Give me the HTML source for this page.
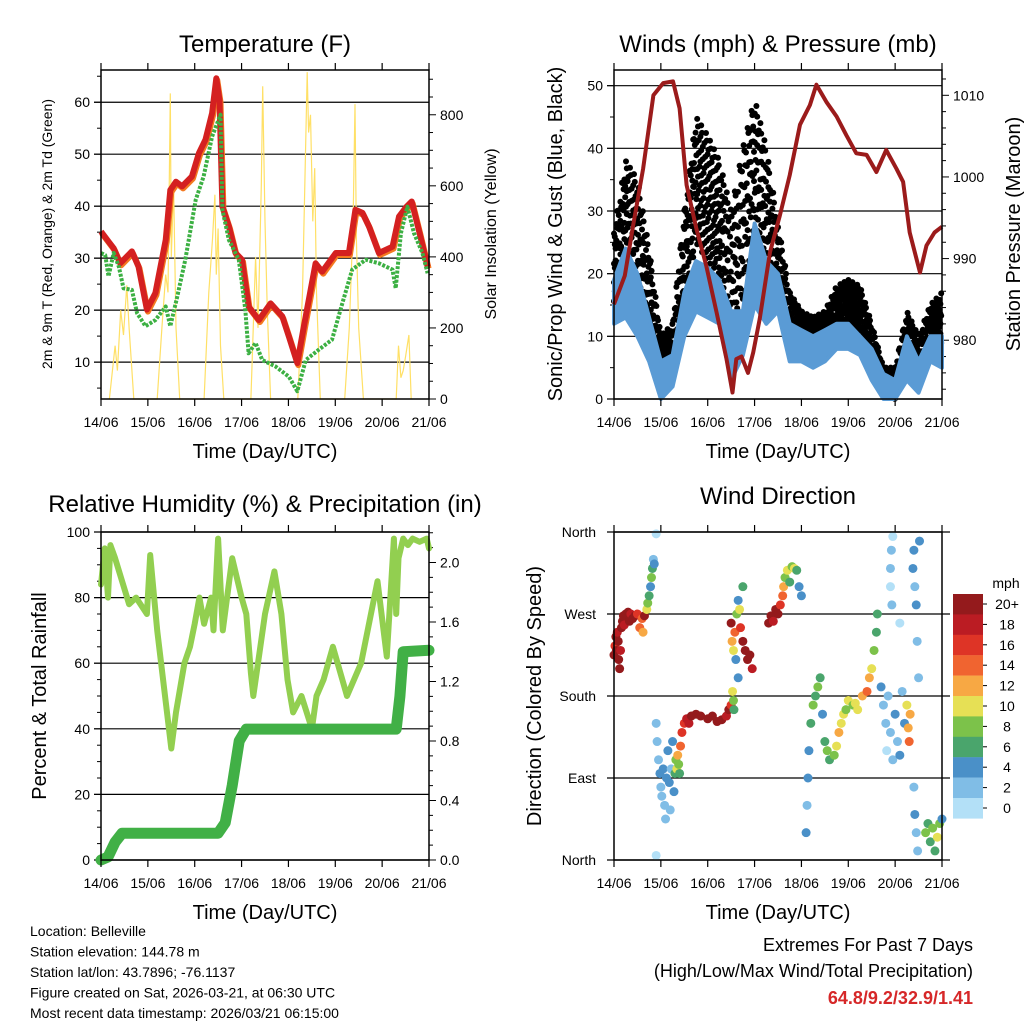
<!DOCTYPE html>
<html><head><meta charset="utf-8"><style>
body{margin:0;background:#fff;}
svg{display:block;font-family:"Liberation Sans",sans-serif;}
</style></head><body>
<svg id="c" width="1024" height="1024" viewBox="0 0 1024 1024"></svg>
<script>
// ---------- DATA ----------
const dayLabels = ["14/06","15/06","16/06","17/06","18/06","19/06","20/06","21/06"];
const tempT = [0,0.16,0.27,0.41,0.66,0.8,0.98,1.16,1.38,1.48,1.6,1.73,1.94,2.09,2.23,2.37,2.46,2.53,2.59,2.73,2.87,3.01,3.15,3.37,3.62,3.87,4.01,4.19,4.33,4.58,4.72,5.01,5.29,5.43,5.58,5.72,5.93,6.22,6.36,6.52,6.63,6.8,6.97];
const tempV = [35.1,33.2,31.9,29,31.3,28.4,20.1,23.3,33.5,43.1,44.7,43.8,45.7,50.2,52.8,57.9,64.6,60.4,39.9,36.1,31,29.7,20.7,18.1,21.3,18.8,14.9,9.8,16.9,29,27.4,31,31,39.3,38.7,36.1,31,32.2,38,39.9,40.9,34.8,28.4];
const dewT = [0,0.09,0.16,0.27,0.38,0.48,0.66,0.77,0.95,1.16,1.38,1.48,1.62,1.8,2.02,2.19,2.37,2.55,2.59,2.73,2.94,3.08,3.15,3.3,3.44,3.72,4.01,4.19,4.37,4.65,4.93,5.15,5.36,5.65,5.93,6.22,6.29,6.4,6.54,6.68,6.86,6.97];
const dewV = [31,30.6,26.5,31,28.4,24.2,23.9,19.4,16.9,18.1,20.7,16.9,22.3,29.7,41.2,45.7,53.4,57.6,39.3,33.5,29.7,20.1,11.7,13.7,10.4,9.2,7.2,4.4,10.4,12.4,14.3,21.3,27.8,29.7,29,27.8,24.2,34.8,39.9,34.8,31,27.1];
const solarT = [0.18,0.3,0.35,0.42,0.48,0.55,0.6,0.7, 1.2,1.3,1.38,1.43,1.48,1.5,1.55,1.6,1.68, 2.2,2.3,2.38,2.43,2.46,2.5,2.55,2.62, 3.2,3.3,3.35,3.42,3.45,3.5,3.55,3.62, 4.2,4.3,4.35,4.4,4.43,4.47,4.52,4.56,4.6,4.68, 5.2,5.3,5.38,5.42,5.45,5.5,5.6, 6.3,6.35,6.4,6.45,6.5,6.57,6.62];
const solarW = [0,150,80,250,180,320,200,0, 0,200,350,300,860,400,600,200,0, 0,300,450,575,350,480,150,0, 0,400,200,600,880,500,250,0, 0,300,600,920,750,800,500,650,300,0, 0,200,500,830,450,200,0, 0,150,60,80,120,180,0];
const windT = [0,0.25,0.5,0.75,1,1.25,1.5,1.75,2,2.25,2.5,2.75,3,3.25,3.5,3.75,4,4.25,4.5,4.75,5,5.25,5.5,5.75,6,6.25,6.5,6.75,7];
const windLo = [12,13,10,6,0,2,10,14,13,12,3,7,15,12,14,6,6,5,6,8,8,7,3,0,0,3,1,6,5];
const windHi = [19,24,20,13,6,7,17,22,21,19,14,14,28,22,20,12,11,10,11,12,12,10,8,4,3,10,6,10,10];
const gustLo = [15,20,14,10,3,3,15,25,22,20,5,10,25,18,16,8,8,7,8,10,12,10,5,1,0,5,2,8,9];
const gustHi = [27,38,35,24,10,12,30,45,42,38,30,40,48,40,28,17,14,13,14,18,19,18,12,5,5,14,10,15,17];
const presT = [0,0.23,0.41,0.62,0.84,1.05,1.26,1.4,1.55,1.76,1.97,2.19,2.4,2.53,2.61,2.72,2.86,2.97,3.11,3.33,3.54,3.75,3.97,4.18,4.32,4.53,4.75,4.96,5.17,5.39,5.6,5.81,6.03,6.17,6.31,6.53,6.67,6.84,7];
const presV = [984.4,987.9,994.1,1001,1010,1011.5,1011.7,1008.4,999,993.6,989.1,983.4,977.7,973.6,977.7,978,976,978.5,982.6,990.8,995.3,1000.2,1006.4,1008.8,1011.3,1009.2,1007.4,1005.1,1002.9,1002.7,1000.6,1003.3,1001,999.4,993.2,988.3,991.6,993.2,993.9];
const rhT = [0,0.08,0.15,0.2,0.3,0.45,0.6,0.75,0.98,1.05,1.2,1.5,1.6,1.78,1.9,2.0,2.1,2.2,2.35,2.4,2.5,2.6,2.8,3.0,3.1,3.2,3.25,3.35,3.5,3.7,3.85,3.98,4.1,4.28,4.5,4.6,4.75,4.95,5.15,5.25,5.55,5.9,6.1,6.25,6.3,6.35,6.45,6.55,6.65,6.8,6.95,7.0];
const rhV = [84,95,80,96,92,85,78,80,75,93,70,34,45,60,65,72,80,72,80,70,98,70,92,80,75,57,50,60,75,88,75,55,45,50,40,50,55,65,55,50,60,85,62,98,75,92,98,96,98,97,98,95];
const rainT = [0,0.15,0.3,0.45,2.5,2.65,2.8,2.95,3.1,6.3,6.38,6.45,7.0];
const rainV = [0,0.02,0.12,0.18,0.18,0.25,0.5,0.8,0.88,0.88,1.1,1.4,1.41];
const dirT = [0,0.02,0.04,0.05,0.07,0.09,0.1,0.12,0.14,0.16,0.18,0.2,0.22,0.25,0.3,0.33,0.36,0.4,0.45,0.5,0.55,0.6,0.62,0.65,0.7,0.72,0.75,0.78,0.8,0.82,0.84,0.86,0.9,0.9,0.9,0.92,0.95,0.98,1.0,1.02,1.05,1.08,1.1,1.12,1.15,1.18,1.2,1.22,1.25,1.28,1.3,1.32,1.34,1.36,1.38,1.4,1.42,1.45,1.5,1.55,1.6,1.65,1.75,1.85,2.0,2.1,2.2,2.3,2.4,2.45,2.5,2.53,2.55,2.56,2.5,2.52,2.55,2.58,2.6,2.62,2.65,2.68,2.7,2.75,2.8,2.85,2.9,2.95,2.75,2.65,3.3,3.35,3.4,3.45,3.5,3.55,3.6,3.62,3.65,3.7,3.75,3.8,3.85,3.9,3.95,4.0,4.1,4.12,4.14,4.16,4.2,4.25,4.3,4.35,4.4,4.45,4.5,4.55,4.6,4.7,4.75,4.8,4.85,4.9,4.95,5.0,5.1,5.15,5.2,5.3,5.4,5.45,5.5,5.55,5.6,5.62,5.7,5.75,5.8,5.82,5.85,5.9,5.95,6.0,6.05,6.1,6.15,6.2,5.9,5.9,5.92,5.93,5.95,6.1,6.25,6.28,6.3,6.32,6.38,6.4,6.42,6.45,6.47,6.5,6.52,6.4,6.42,6.45,6.48,6.65,6.7,6.75,6.8,6.85,6.9,6.95,7.0];
const dirD = [225,235,245,230,250,240,220,210,230,255,262,268,258,270,272,262,270,265,268,270,255,265,250,268,275,282,290,300,310,320,330,325,358,5,150,130,110,95,80,70,100,60,45,90,120,85,55,100,130,75,95,110,100,115,105,95,125,140,150,155,150,158,160,158,155,158,152,154,158,165,170,185,175,165,260,240,230,250,220,270,285,275,255,240,230,220,225,210,300,200,260,268,262,275,270,280,290,300,310,318,305,322,320,318,300,290,30,60,90,120,150,170,180,190,200,160,130,120,110,115,125,140,150,160,165,175,170,172,165,180,185,200,210,230,250,270,190,170,150,120,180,140,110,160,130,115,185,150,300,320,340,280,355,260,170,145,130,160,320,340,300,280,240,200,350,80,50,30,10,30,40,20,35,10,25,40,45];
const dirS = [20,16,20,20,18,20,20,20,18,20,20,20,18,20,20,20,18,20,20,16,14,14,12,20,10,8,6,4,8,6,2,4,0,0,2,2,2,4,2,2,4,2,2,4,4,4,2,2,4,4,6,8,10,12,8,6,14,16,16,18,18,20,20,20,20,20,20,20,18,20,16,10,8,6,20,12,10,14,4,8,4,10,16,20,20,20,20,18,6,4,20,20,18,20,20,16,14,12,8,10,6,8,10,6,4,4,4,2,4,4,6,8,6,8,6,4,6,8,6,8,10,12,10,10,8,10,8,10,10,12,14,12,10,8,6,6,4,2,2,0,2,2,2,4,2,4,2,4,0,2,2,2,0,0,10,12,14,12,4,4,2,4,2,2,4,2,4,2,2,8,6,6,8,6,10,8,4];
const cbLabels = ["20+","18","16","14","12","10","8","6","4","2","0"];
const cbColors = ["#941a1c","#bb1c23","#de3426","#f06430","#f7a844","#e6e055","#7cc24a","#4aa56c","#4a90c8","#80bde6","#b3e0f7"];

// ---------- HELPERS ----------
const NS="http://www.w3.org/2000/svg";
const svg=document.getElementById('c');
function el(tag,attrs,parent){const e=document.createElementNS(NS,tag);for(const k in attrs)e.setAttribute(k,attrs[k]);(parent||svg).appendChild(e);return e;}
function txt(s,x,y,size,anchor,parent,extra){const e=el('text',Object.assign({x:x,y:y,'font-size':size,'text-anchor':anchor||'middle',fill:'#000'},extra||{}),parent);e.textContent=s;return e;}
function grp(name){const g=el('g',{});return g;}
function path(pts){return pts.map((p,i)=>(i?'L':'M')+p[0].toFixed(1)+','+p[1].toFixed(1)).join('');}
function interp(ts,vs,t){for(let i=1;i<ts.length;i++){if(t<=ts[i]){const f=(t-ts[i-1])/(ts[i]-ts[i-1]);return vs[i-1]+f*(vs[i]-vs[i-1]);}}return vs[vs.length-1];}

function xAxis(g,x0,w,y0,h){
  const lab=grp('x-axis');g.appendChild(lab);
  for(let i=0;i<8;i++){const x=x0+i*w/7;
    el('line',{x1:x,y1:y0+h,x2:x,y2:y0+h+7,stroke:'#000','stroke-width':1.2},lab);
    el('line',{x1:x,y1:y0,x2:x,y2:y0-7,stroke:'#000','stroke-width':1.2},lab);
    const t=txt(dayLabels[i],x,y0+h+28,14,'middle',lab);}
  const xt=txt('Time (Day/UTC)',x0+w/2,y0+h+59,20,'middle',lab);
  
}
function yTicks(g,x,y0,y1,vmin,vmax,major,minor,side,labels,grid,gx0,gx1){
  const Y=v=>y1-(v-vmin)/(vmax-vmin)*(y1-y0);
  const d=side==='left'?-1:1;
  for(let v=Math.ceil(vmin/minor)*minor;v<=vmax+1e-9;v+=minor){
    const y=Y(v);const isMaj=Math.abs(v/major-Math.round(v/major))<1e-6;
    el('line',{x1:x,y1:y,x2:x+d*(isMaj?7:4),y2:y,stroke:'#000','stroke-width':1},g);
  }
  labels.forEach(L=>{const y=Y(L[0]);
    const t=txt(L[1],x+d*11,y+5,14,side==='left'?'end':'start',g);
    
    if(grid)el('line',{x1:gx0,y1:y,x2:gx1,y2:y,stroke:'#000','stroke-width':1.2},g);
  });
  return Y;
}
function frame(g,x,y,w,h){el('rect',{x:x,y:y,width:w,height:h,fill:'none',stroke:'#000','stroke-width':1.5},g);}

// ---------- PANEL 1: TEMPERATURE ----------
(function(){
  const g=grp('temperature-panel');svg.appendChild(g);
  const x0=101,y0=70,w=328,h=329;const X=t=>x0+t*w/7;
  const tt=txt('Temperature (F)',265,52,24,'middle',g);
  const Y=yTicks(g,x0,y0,y0+h,2.9,66.2,10,5,'left',[[10,'10'],[20,'20'],[30,'30'],[40,'40'],[50,'50'],[60,'60']],true,x0-7,x0+w);
  const YS=yTicks(g,x0+w,y0,y0+h,0,926,200,50,'right',[[0,'0'],[200,'200'],[400,'400'],[600,'600'],[800,'800']],false);
  const sol=el('path',{d:path(solarT.map((t,i)=>[X(t),YS(solarW[i])])),fill:'none',stroke:'#ffe066','stroke-width':1.2},g);
  
  const or=el('path',{d:path(tempT.map((t,i)=>[X(t)+1,Y(tempV[i])+2])),fill:'none',stroke:'#f47920','stroke-width':6,'stroke-linejoin':'round'},g);
  
  const rd=el('path',{d:path(tempT.map((t,i)=>[X(t),Y(tempV[i])])),fill:'none',stroke:'#d42020','stroke-width':6,'stroke-linejoin':'round'},g);
  
  const gr=el('path',{d:path(dewT.map((t,i)=>[X(t),Y(dewV[i])])),fill:'none',stroke:'#3cb043','stroke-width':4,'stroke-dasharray':'3 1.5','stroke-linejoin':'round'},g);
  
  frame(g,x0,y0,w,h);xAxis(g,x0,w,y0,h);
  const yl=txt('2m & 9m T (Red, Orange) & 2m Td (Green)',0,0,14,'middle',g,{transform:'translate(52,234) rotate(-90)'});
  
  const yr=txt('Solar Insolation (Yellow)',0,0,16,'middle',g,{transform:'translate(496,234) rotate(-90)'});
  
})();

// ---------- PANEL 2: WINDS ----------
(function(){
  const g=grp('winds-pressure-panel');svg.appendChild(g);
  const x0=614,y0=70,w=328,h=329;const X=t=>x0+t*w/7;
  const tt=txt('Winds (mph) & Pressure (mb)',778,52,24,'middle',g);
  const Y=yTicks(g,x0,y0,y0+h,0,52.5,10,5,'left',[[0,'0'],[10,'10'],[20,'20'],[30,'30'],[40,'40'],[50,'50']],true,x0-7,x0+w);
  const YP=yTicks(g,x0+w,y0,y0+h,972.8,1013.1,10,2,'right',[[980,'980'],[990,'990'],[1000,'1000'],[1010,'1010']],false);
  const gp=grp('gust-points');g.appendChild(gp);
  const fr=[0.05,0.55,0.95,0.3,0.75,0.15,0.85,0.45,0.65,0.25,0.5,0.1,0.9,0.35,0.7,0.2,0.8,0.4,0.6,1.0,0.0];
  let k=0;
  for(let px=0;px<=w;px+=0.8){const t=px/w*7;
    const lo=interp(windT,gustLo,t),hi=interp(windT,gustHi,t);
    for(let j=0;j<4;j++){const f=fr[(k++)%fr.length];
      el('circle',{cx:x0+px,cy:Y(lo+(hi-lo)*f),r:3,fill:'#000'},gp);}
  }
  const band=(lo,hi)=>path(windT.map((t,i)=>[X(t),Y(hi[i])]).concat(windT.slice().reverse().map((t,j)=>{const i=windT.length-1-j;return [X(t),Y(lo[i])];})))+'Z';
  const wb=el('path',{d:band(windLo,windHi),fill:'#5a9bd5',stroke:'#5a9bd5','stroke-width':4,'stroke-linejoin':'round'},g);
  
  const pl=el('path',{d:path(presT.map((t,i)=>[X(t),YP(presV[i])])),fill:'none',stroke:'#9b1b1b','stroke-width':4,'stroke-linejoin':'round'},g);
  
  frame(g,x0,y0,w,h);xAxis(g,x0,w,y0,h);
  const yl=txt('Sonic/Prop Wind & Gust (Blue, Black)',0,0,20,'middle',g,{transform:'translate(562,234) rotate(-90)'});
  
  const yr=txt('Station Pressure (Maroon)',0,0,20,'middle',g,{transform:'translate(1020,234) rotate(-90)'});
  
})();

// ---------- PANEL 3: RH & PRECIP ----------
(function(){
  const g=grp('humidity-precip-panel');svg.appendChild(g);
  const x0=101,y0=532,w=328,h=328;const X=t=>x0+t*w/7;
  const tt=txt('Relative Humidity (%) & Precipitation (in)',265,512,24,'middle',g);
  const Y=yTicks(g,x0,y0,y0+h,0,100,20,5,'left',[[0,'0'],[20,'20'],[40,'40'],[60,'60'],[80,'80'],[100,'100']],true,x0-7,x0+w);
  const YR=yTicks(g,x0+w,y0,y0+h,0,2.205,0.4,0.1,'right',[[0,'0.0'],[0.4,'0.4'],[0.8,'0.8'],[1.2,'1.2'],[1.6,'1.6'],[2.0,'2.0']],false);
  const rh=el('path',{d:path(rhT.map((t,i)=>[X(t),Y(rhV[i])])),fill:'none',stroke:'#92cf50','stroke-width':6,'stroke-linejoin':'round','stroke-linecap':'round'},g);
  
  const rn=el('path',{d:path(rainT.map((t,i)=>[X(t),YR(rainV[i])])),fill:'none',stroke:'#41b046','stroke-width':11,'stroke-linejoin':'round','stroke-linecap':'round'},g);
  
  frame(g,x0,y0,w,h);xAxis(g,x0,w,y0,h);
  const yl=txt('Percent & Total Rainfall',0,0,20,'middle',g,{transform:'translate(46,696) rotate(-90)'});
  
})();

// ---------- PANEL 4: WIND DIRECTION ----------
(function(){
  const g=grp('wind-direction-panel');svg.appendChild(g);
  const x0=614,y0=532,w=328,h=328;const X=t=>x0+t*w/7;
  const tt=txt('Wind Direction',778,504,24,'middle',g);
  const Y=d=>y0+h-d/360*h;
  ['North','East','South','West','North'].forEach((n,i)=>{const y=Y(i*90);
    el('line',{x1:x0-7,y1:y,x2:x0+w+8,y2:y,stroke:'#000','stroke-width':1.2},g);
    const t=txt(n,x0-18,y+5,14,'end',g);});
  const col=s=>cbColors[10-Math.min(10,Math.round(s/2))];
  dirT.forEach((t,i)=>{const c=el('circle',{cx:X(t),cy:Y(dirD[i]),r:4.5,fill:col(dirS[i])},g);
    
    });
  frame(g,x0,y0,w,h);xAxis(g,x0,w,y0,h);
  const yl=txt('Direction (Colored By Speed)',0,0,20,'middle',g,{transform:'translate(541,696) rotate(-90)'});
  
  const cb=grp('speed-colorbar');g.appendChild(cb);
  const mt=txt('mph',1006,588,14,'middle',cb);
  cbColors.forEach((c,i)=>{const r=el('rect',{x:953,y:594+i*20.4,width:30,height:20.6,fill:c},cb);
    
    el('line',{x1:983,y1:604+i*20.4,x2:987,y2:604+i*20.4,stroke:'#000','stroke-width':1},cb);
    const t=txt(cbLabels[i],1007,609+i*20.4,14,'middle',cb);});
})();

// ---------- FOOTER ----------
(function(){
  const g=grp('station-info');svg.appendChild(g);
  ["Location: Belleville","Station elevation: 144.78 m","Station lat/lon: 43.7896; -76.1137","Figure created on Sat, 2026-03-21, at 06:30 UTC","Most recent data timestamp: 2026/03/21 06:15:00"].forEach((s,i)=>{
    const t=txt(s,30,936+i*20.5,14,'start',g);});
  const e=grp('extremes');svg.appendChild(e);
  const a=txt('Extremes For Past 7 Days',973,951,18,'end',e);
  const b=txt('(High/Low/Max Wind/Total Precipitation)',973,977,18,'end',e);
  const c=txt('64.8/9.2/32.9/1.41',973,1004,18,'end',e,{fill:'#d62728','font-weight':'bold'});
})();
</script>
</body></html>
